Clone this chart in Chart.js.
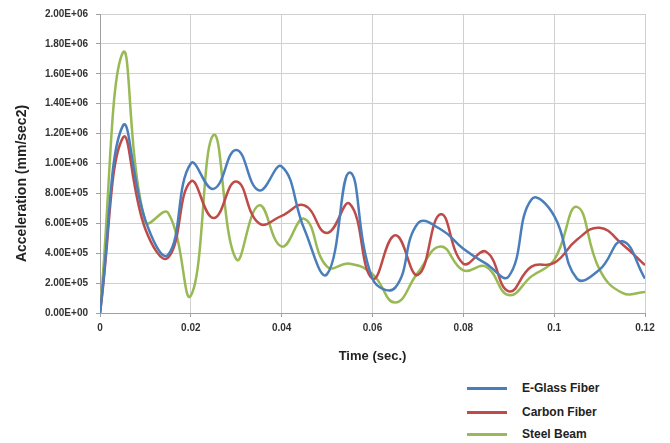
<!DOCTYPE html>
<html>
<head>
<meta charset="utf-8">
<script src="https://cdn.jsdelivr.net/npm/chart.js@4.4.0/dist/chart.umd.min.js"></script>
<style>
  html, body { margin: 0; padding: 0; background: #fff; }
  #wrap { position: relative; width: 670px; height: 443px; }
  #chartBox { position: absolute; left: 0; top: 0; width: 670px; height: 370px; }
  #legend { position: absolute; left: 467px; top: 376px; font: bold 12px "Liberation Sans", Arial, sans-serif; color: #222; }
  .item { display: flex; align-items: center; height: 24px; }
  .swatch { width: 40px; height: 3px; margin-right: 15px; }
</style>
</head>
<body>
<div id="wrap">
  <div id="chartBox"><canvas id="accChart"></canvas></div>
  <div id="legend"></div>
</div>
<script>
// --- Data ---
const times = [0, 0.005, 0.01, 0.015, 0.02, 0.025, 0.03, 0.035, 0.04, 0.045, 0.05, 0.055, 0.06,
               0.065, 0.07, 0.075, 0.08, 0.085, 0.09, 0.095, 0.1, 0.105, 0.11, 0.115, 0.12];
const eGlass = [0, 1.25e6, 6.2e5, 3.9e5, 1.0e6, 8.3e5, 1.09e6, 8.2e5, 9.8e5, 5.6e5, 2.6e5, 9.4e5, 2.3e5,
                1.7e5, 6.0e5, 5.6e5, 4.3e5, 3.3e5, 2.45e5, 7.6e5, 6.5e5, 2.3e5, 2.9e5, 4.8e5, 2.3e5];
const carbon = [0, 1.17e6, 5.6e5, 3.7e5, 8.8e5, 6.35e5, 8.8e5, 6.0e5, 6.5e5, 7.2e5, 5.35e5, 7.3e5, 2.3e5,
                5.2e5, 2.55e5, 6.6e5, 3.3e5, 4.1e5, 1.45e5, 3.1e5, 3.35e5, 4.9e5, 5.7e5, 4.6e5, 3.2e5];
const steel = [0, 1.74e6, 6.1e5, 6.7e5, 1.16e5, 1.19e6, 3.6e5, 7.2e5, 4.45e5, 6.3e5, 3.1e5, 3.3e5, 2.6e5,
               7e4, 2.7e5, 4.45e5, 2.85e5, 3.1e5, 1.2e5, 2.45e5, 3.55e5, 7.1e5, 2.9e5, 1.35e5, 1.4e5];
const seriesNames = ['E-Glass Fiber', 'Carbon Fiber', 'Steel Beam'];
const seriesColors = ['#4A7EBB', '#BE4B48', '#98B954'];
const yTitle = 'Acceleration (mm/sec2)';

const font = '"Liberation Sans", Arial, sans-serif';

function sci(v) {
    if (v === 0) return '0.00E+00';
    const exp = Math.floor(Math.log10(Math.abs(v)) + 1e-9);
    const mant = v / Math.pow(10, exp);
    const e = Math.abs(exp) < 10 ? '0' + Math.abs(exp) : '' + Math.abs(exp);
    return mant.toFixed(2) + 'E' + (exp < 0 ? '-' : '+') + e;
}

function toPoints(vals) {
    return times.map((t, i) => ({ x: t, y: vals[i] }));
}

const datasets = [eGlass, carbon, steel].map((vals, i) => ({
    label: seriesNames[i],
    data: toPoints(vals),
    borderColor: seriesColors[i],
    backgroundColor: seriesColors[i],
    borderWidth: 2.5,
    pointRadius: 0,
    tension: 0.45,
    fill: false
}));

// y title sits a little below the middle of the axis, like the original
const yTitlePlugin = {
    id: 'yTitle',
    afterDraw(chart) {
        const ctx = chart.ctx;
        const area = chart.chartArea;
        ctx.save();
        ctx.translate(22, (area.top + area.bottom) / 2 + 20);
        ctx.rotate(-Math.PI / 2);
        ctx.font = 'bold 14px ' + font;
        ctx.fillStyle = '#222';
        ctx.textAlign = 'center';
        ctx.textBaseline = 'middle';
        ctx.fillText(yTitle, 0, 0);
        ctx.restore();
    }
};

new Chart(document.getElementById('accChart').getContext('2d'), {
    type: 'line',
    data: { datasets: datasets },
    plugins: [yTitlePlugin],
    options: {
        responsive: true,
        maintainAspectRatio: false,
        animation: false,
        layout: { padding: { top: 14, right: 25, left: 0, bottom: 0 } },
        plugins: { legend: { display: false }, tooltip: { enabled: false } },
        scales: {
            x: {
                type: 'linear',
                min: 0, max: 0.12,
                afterFit: s => { s.height = 57; },
                grid: { color: '#d0d0d0', tickLength: 4, tickColor: '#a0a0a0' },
                border: { color: '#a0a0a0' },
                ticks: {
                    stepSize: 0.02,
                    padding: 5,
                    maxRotation: 0,
                    color: '#333',
                    font: { family: font, size: 10, weight: 'bold' },
                    callback: v => String(parseFloat(v.toFixed(2)))
                },
                title: {
                    display: true,
                    text: 'Time (sec.)',
                    color: '#222',
                    font: { family: font, size: 13, weight: 'bold' },
                    padding: { top: 4, bottom: 6 }
                }
            },
            y: {
                min: 0, max: 2e6,
                afterFit: s => { s.width = 100; },
                grid: { color: '#d0d0d0', tickLength: 4, tickColor: '#a0a0a0' },
                border: { color: '#a0a0a0' },
                ticks: {
                    stepSize: 2e5,
                    padding: 8,
                    color: '#333',
                    font: { family: font, size: 10, weight: 'bold' },
                    callback: v => sci(v)
                }
            }
        }
    }
});

// --- Legend ---
const legendDiv = document.getElementById('legend');
seriesNames.forEach((name, i) => {
    const row = document.createElement('div');
    row.className = 'item';
    if (i === 2) row.style.height = '20px';
    row.innerHTML = '<span class="swatch" style="background:' + seriesColors[i] + '"></span><span>' + name + '</span>';
    legendDiv.appendChild(row);
});
</script>
</body>
</html>
